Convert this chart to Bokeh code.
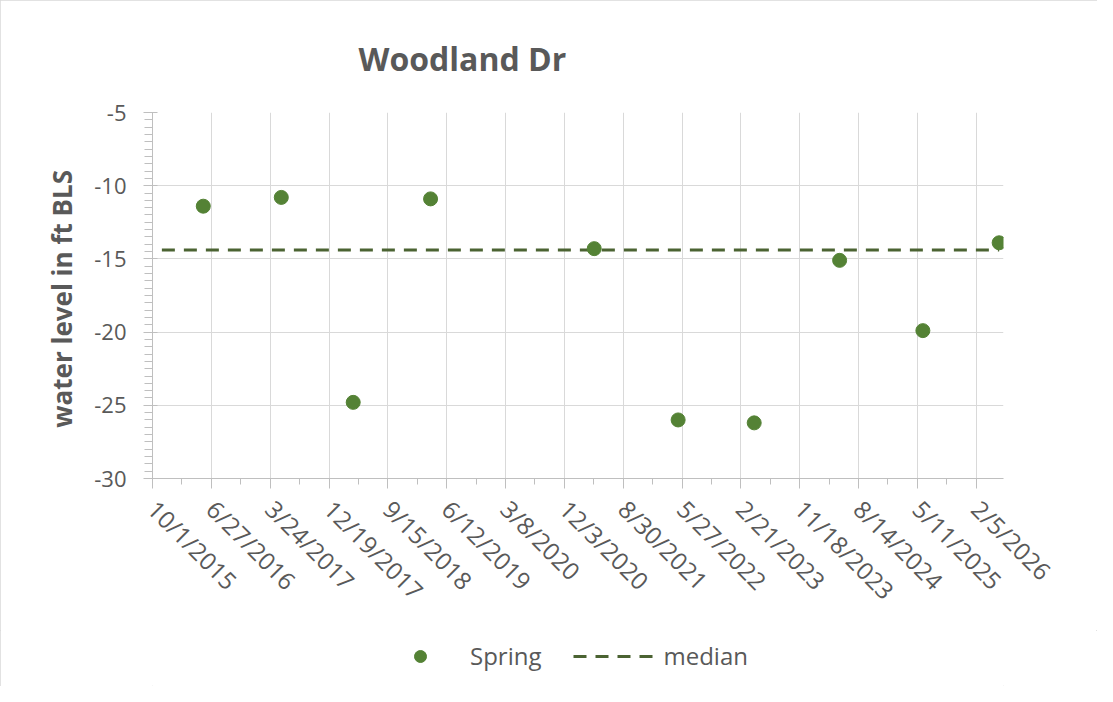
import math
import pandas as pd
from bokeh.plotting import figure
from bokeh.layouts import column
from bokeh.models import (FixedTicker, SingleIntervalTicker, Legend, LegendItem,
                          ColumnDataSource)
from bokeh.embed import file_html
from bokeh.resources import INLINE

# ---------------- data ----------------
title_text = "Woodland Dr"
y_label = "water level  in ft BLS"
tick_labels = ["10/1/2015", "6/27/2016", "3/24/2017", "12/19/2017", "9/15/2018",
               "6/12/2019", "3/8/2020", "12/3/2020", "8/30/2021", "5/27/2022",
               "2/21/2023", "11/18/2023", "8/14/2024", "5/11/2025", "2/5/2026"]
y_ticks = [-30, -25, -20, -15, -10, -5]
y_tick_labels = ["-30", "-25", "-20", "-15", "-10", "-5"]
spring_dates = ["2016-05-21", "2017-05-14", "2018-04-09", "2019-03-30", "2021-04-19",
                "2022-05-09", "2023-04-23", "2024-05-19", "2025-06-05", "2026-05-21"]
spring_levels = [-11.4, -10.8, -24.8, -10.9, -14.3, -26.0, -26.2, -15.1, -19.9, -13.9]
median_dates = ["2015-11-13", "2026-05-21"]
median_levels = [-14.4, -14.4]
x_axis_end = "2026-06-10"
y_min, y_max = -30, -5
series_names = ["Spring", "median"]


def ms(s, fmt=None):
    return pd.to_datetime(s, format=fmt).value // 10**6


tick_ms = [ms(t, "%m/%d/%Y") for t in tick_labels]
minor_ms = [(a + b) / 2 for a, b in zip(tick_ms[:-1], tick_ms[1:])] + tick_ms
spring_src = ColumnDataSource(dict(x=[ms(d) for d in spring_dates], y=spring_levels))
median_src = ColumnDataSource(dict(x=[ms(d) for d in median_dates], y=median_levels))

FONT = "Open Sans"
GRAY = "#595959"
AXIS = "#bfbfbf"
GRID = "#d9d9d9"
GREEN = "#548235"
MEDIAN = "#4b6332"
W = 1097
H_MAIN = 630
H_LEG = 56

p = figure(width=W, height=H_MAIN, output_backend="svg", toolbar_location=None,
           x_range=(tick_ms[0], ms(x_axis_end)), y_range=(y_min, y_max),
           min_border_left=152, min_border_right=94, min_border_top=112,
           min_border_bottom=H_MAIN - 478, outline_line_color=None)

# title
p.title.text = title_text
p.title.text_font = FONT
p.title.text_font_size = "32px"
p.title.text_font_style = "bold"
p.title.text_color = GRAY
p.title.align = "left"
p.title.offset = 206
p.title.standoff = 65

# x axis
xa = p.xaxis[0]
xa.ticker = FixedTicker(ticks=tick_ms, minor_ticks=minor_ms)
xa.major_label_overrides = {t: lab for t, lab in zip(tick_ms, tick_labels)}
xa.major_label_orientation = -math.pi / 4
xa.major_label_text_font = FONT
xa.major_label_text_font_size = "24px"
xa.major_label_text_color = GRAY
xa.axis_line_color = AXIS
xa.major_tick_line_color = AXIS
xa.minor_tick_line_color = AXIS
xa.major_tick_out = 10
xa.major_tick_in = 0
xa.minor_tick_out = 6
xa.minor_tick_in = 0
xa.major_label_standoff = 16

# y axis
ya = p.yaxis[0]
ya.ticker = SingleIntervalTicker(interval=5, num_minor_ticks=10)
ya.major_label_overrides = {t: lab for t, lab in zip(y_ticks, y_tick_labels)}
ya.axis_label = y_label
ya.axis_label_text_font = FONT
ya.axis_label_text_font_size = "26px"
ya.axis_label_text_font_style = "bold"
ya.axis_label_text_color = GRAY
ya.axis_label_standoff = 11
ya.major_label_text_font = FONT
ya.major_label_text_font_size = "22px"
ya.major_label_text_color = GRAY
ya.axis_line_color = AXIS
ya.major_tick_line_color = AXIS
ya.minor_tick_line_color = AXIS
ya.major_tick_out = 9
ya.major_tick_in = 5
ya.minor_tick_out = 8
ya.minor_tick_in = 0
ya.major_label_standoff = 17

p.xgrid.grid_line_color = GRID
p.ygrid.grid_line_color = GRID

p.line("x", "y", source=median_src, line_color=MEDIAN, line_width=3,
       line_dash="13 9")
p.scatter("x", "y", source=spring_src, size=14, fill_color=GREEN,
          line_color=GREEN)

# legend strip below the chart (its renderers sit outside its own view)
q = figure(width=W, height=H_LEG, output_backend="svg", toolbar_location=None,
           x_range=(0, 1), y_range=(0, 1), x_axis_location=None,
           y_axis_location=None, min_border=0, outline_line_color=None)
q.grid.visible = False
leg_spr = q.scatter("x", "y", source=spring_src, size=14, fill_color=GREEN,
                    line_color=GREEN)
leg_med = q.line("x", "y", source=median_src, line_color=MEDIAN, line_width=3,
                 line_dash="13 9")
legend = Legend(items=[LegendItem(label=series_names[0], renderers=[leg_spr]),
                       LegendItem(label=series_names[1], renderers=[leg_med])],
                orientation="horizontal", location=(228, 14),
                glyph_width=80, glyph_height=30, label_height=30,
                label_standoff=10, spacing=32, padding=0, margin=0,
                border_line_alpha=0, background_fill_alpha=0,
                label_text_color=GRAY, label_text_font=FONT,
                label_text_font_size="24px")
q.add_layout(legend, "center")

layout = column(p, q, spacing=0)
layout.styles = {"outline": "1px solid #d9d9d9", "outline-offset": "-1px"}

open("out.html", "w").write(file_html(layout, INLINE))
